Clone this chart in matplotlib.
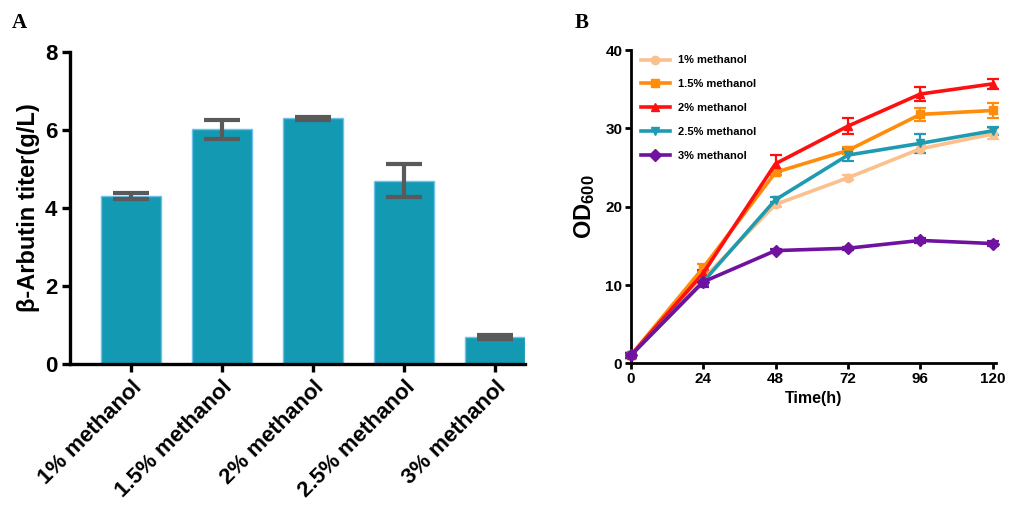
import matplotlib
matplotlib.use("Agg")
import matplotlib.pyplot as plt
import numpy as np

plt.rcParams['font.family'] = ['Liberation Sans', 'DejaVu Sans']
plt.rcParams['font.weight'] = 'bold'
plt.rcParams['mathtext.fontset'] = 'custom'
plt.rcParams['mathtext.rm'] = 'Liberation Sans:bold'
plt.rcParams['mathtext.bf'] = 'Liberation Sans:bold'
plt.rcParams['mathtext.default'] = 'rm'

# Panel A data
categories = ["1% methanol", "1.5% methanol", "2% methanol", "2.5% methanol", "3% methanol"]
titer = [4.31, 6.02, 6.31, 4.70, 0.70]
titer_err = [0.08, 0.25, 0.04, 0.42, 0.05]

# Panel B data
time_h = [0, 24, 48, 72, 96, 120]
od_1 = [1.0, 10.8, 20.3, 23.7, 27.4, 29.3]
od_1_err = [0.3, 0.6, 0.3, 0.3, 0.5, 0.7]
od_15 = [1.0, 12.2, 24.4, 27.2, 31.8, 32.3]
od_15_err = [0.3, 0.5, 0.4, 0.4, 0.8, 1.0]
od_2 = [1.0, 11.5, 25.5, 30.3, 34.4, 35.7]
od_2_err = [0.3, 0.4, 1.1, 1.0, 0.9, 0.6]
od_25 = [1.0, 10.4, 20.9, 26.6, 28.1, 29.7]
od_25_err = [0.3, 0.4, 0.3, 0.8, 1.2, 0.5]
od_3 = [1.0, 10.4, 14.4, 14.7, 15.7, 15.3]
od_3_err = [0.3, 0.7, 0.2, 0.2, 0.3, 0.3]

series_labels = ["1% methanol", "1.5% methanol", "2% methanol", "2.5% methanol", "3% methanol"]

fig = plt.figure(figsize=(10.14, 5.07), dpi=100)

# ---------- Panel A ----------
axA = fig.add_axes([0.069, 0.282, 0.449, 0.615])
x = np.arange(len(categories))
axA.bar(x, titer, width=0.66, color='#1499B3', edgecolor='#6EC0EC', linewidth=1.0, zorder=2)
axA.errorbar(x, titer, yerr=titer_err, fmt='none', ecolor='#5a5a5a', elinewidth=3,
             capsize=13, capthick=3, zorder=3)
axA.set_xlim(-0.67, 4.33)
axA.set_ylim(0, 8)
axA.set_yticks([0, 2, 4, 6, 8])
axA.set_xticks(x)
axA.set_xticklabels(categories, rotation=45, ha='right', rotation_mode='anchor',
                    fontsize=16, fontweight='bold')
for lab in axA.get_yticklabels():
    lab.set_fontsize(16)
    lab.set_fontweight('bold')
axA.set_ylabel("β-Arbutin titer(g/L)", fontsize=17, fontweight='bold', labelpad=4)
for s in ['top', 'right']:
    axA.spines[s].set_visible(False)
for s in ['left', 'bottom']:
    axA.spines[s].set_linewidth(2.4)
axA.tick_params(axis='both', width=2.4, length=6, direction='out', pad=3)
fig.text(0.012, 0.945, "A", fontsize=15, fontweight='bold', family='Liberation Serif')

# ---------- Panel B ----------
axB = fig.add_axes([0.622, 0.2834, 0.36, 0.6176])
series = [(od_1, od_1_err, '#FBC08C', 'o'),
          (od_15, od_15_err, '#FF8C0A', 's'),
          (od_2, od_2_err, '#FF1010', '^'),
          (od_25, od_25_err, '#1E9BB0', 'v'),
          (od_3, od_3_err, '#7012A0', 'D')]
handles = []
for (vals, errs, col, mk), lab in zip(series, series_labels):
    c = axB.errorbar(time_h, vals, yerr=errs, color=col, marker=mk, markersize=6,
                     linewidth=2.6, elinewidth=1.6, capsize=4, capthick=1.6, label=lab,
                     clip_on=False, zorder=3)
    handles.append(c.lines[0])
axB.set_xlim(0, 121)
axB.set_ylim(0, 40)
axB.set_xticks(time_h)
axB.set_yticks([0, 10, 20, 30, 40])
for lab in axB.get_xticklabels() + axB.get_yticklabels():
    lab.set_fontsize(11)
    lab.set_fontweight('bold')
axB.set_xlabel("Time(h)", fontsize=11.5, fontweight='bold', labelpad=4)
axB.set_ylabel("OD$_{600}$", fontsize=17, fontweight='bold', labelpad=6)
for s in ['top', 'right']:
    axB.spines[s].set_visible(False)
for s in ['left', 'bottom']:
    axB.spines[s].set_linewidth(2.0)
axB.tick_params(axis='both', width=2.0, length=4, direction='out', pad=2)
leg = axB.legend(handles=handles, labels=series_labels, loc='upper left', frameon=False,
                 bbox_to_anchor=(0.0, 1.015), handlelength=2.6, labelspacing=1.25,
                 prop={'weight': 'bold', 'size': 8})
fig.text(0.567, 0.945, "B", fontsize=15, fontweight='bold', family='Liberation Serif')

fig.savefig("out.png", dpi=100)
